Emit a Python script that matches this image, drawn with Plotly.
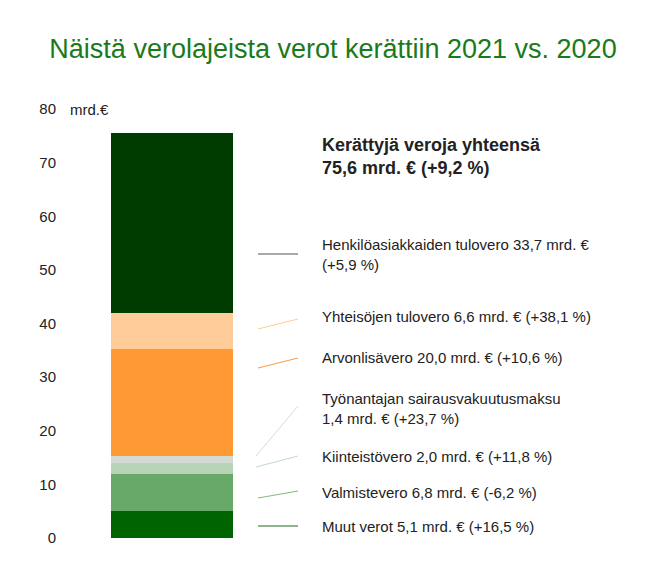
import plotly.graph_objects as go

categories = ["Muut verot", "Valmistevero", "Kiinteistövero", "Työnantajan sairausvakuutusmaksu",
              "Arvonlisävero", "Yhteisöjen tulovero", "Henkilöasiakkaiden tulovero"]
values = [5.1, 6.8, 2.0, 1.4, 20.0, 6.6, 33.7]
labels = ["Muut verot 5,1 mrd. € (+16,5 %)",
          "Valmistevero 6,8 mrd. € (-6,2 %)",
          "Kiinteistövero 2,0 mrd. € (+11,8 %)",
          "Työnantajan sairausvakuutusmaksu<br>1,4 mrd. € (+23,7 %)",
          "Arvonlisävero 20,0 mrd. € (+10,6 %)",
          "Yhteisöjen tulovero 6,6 mrd. € (+38,1 %)",
          "Henkilöasiakkaiden tulovero 33,7 mrd. €<br>(+5,9 %)"]
colors = ["#006400", "#68a868", "#b9d3b9", "#d3d9d3", "#ff9933", "#ffcc99", "#003c00"]
line_colors = ["#1e6e1e", "#7fba7f", "#c4d8c4", "#d6dcd6", "#ff9933", "#ffcc99", "#555555"]

# pixel geometry helper (plot area mapped to pixels)
def py(p):
    return (537 - p) / 5.3625

# leader lines: (x0, y0px, x1, y1px, label y px)
leaders = [(250, 525, 290, 525, 525), (250, 497, 290, 490, 491), (248, 466, 290, 455, 455),
           (248, 455, 290, 405, 407), (250, 367, 290, 357, 356), (250, 328, 290, 318, 315),
           (250, 253, 290, 253, 253)]

fig = go.Figure()
for c, v, col in zip(categories, values, colors):
    fig.add_trace(go.Bar(x=[164], y=[v], width=122, name=c, marker_color=col,
                         marker_line_width=0))

for (x0, y0, x1, y1, ly), lab, lc in zip(leaders, labels, line_colors):
    fig.add_shape(type="line", x0=x0, x1=x1, y0=py(y0), y1=py(y1),
                  line=dict(color=lc, width=1))
    fig.add_annotation(x=312, y=py(ly), text=lab, showarrow=False, xanchor="left",
                       align="left", font=dict(size=15, color="#222"))

fig.add_annotation(x=312, y=py(155), text="<b>Kerättyjä veroja yhteensä<br>75,6 mrd. € (+9,2 %)</b>",
                   showarrow=False, xanchor="left", align="left",
                   font=dict(size=18, color="#222"))
fig.add_annotation(x=60, y=80, text="mrd.€", showarrow=False, xanchor="left",
                   font=dict(size=15, color="#222"))

fig.update_layout(
    barmode="stack", width=650, height=565, showlegend=False,
    plot_bgcolor="white", paper_bgcolor="white",
    margin=dict(l=53, r=0, t=101, b=35),
    font=dict(family="Arial, Liberation Sans, sans-serif"),
    title=dict(text="Näistä verolajeista verot kerättiin 2021 vs. 2020", x=0.5, y=0.945,
               xanchor="center", font=dict(size=27, color="#1a7a1a")),
    bargap=0,
)
fig.update_xaxes(range=[53, 650], visible=False)
fig.update_yaxes(range=[0, 80], tickvals=[0, 10, 20, 30, 40, 50, 60, 70, 80], showgrid=False,
                 zeroline=False, tickfont=dict(size=15, color="#222"), ticklabelstandoff=4)
fig.write_html("out.html")
